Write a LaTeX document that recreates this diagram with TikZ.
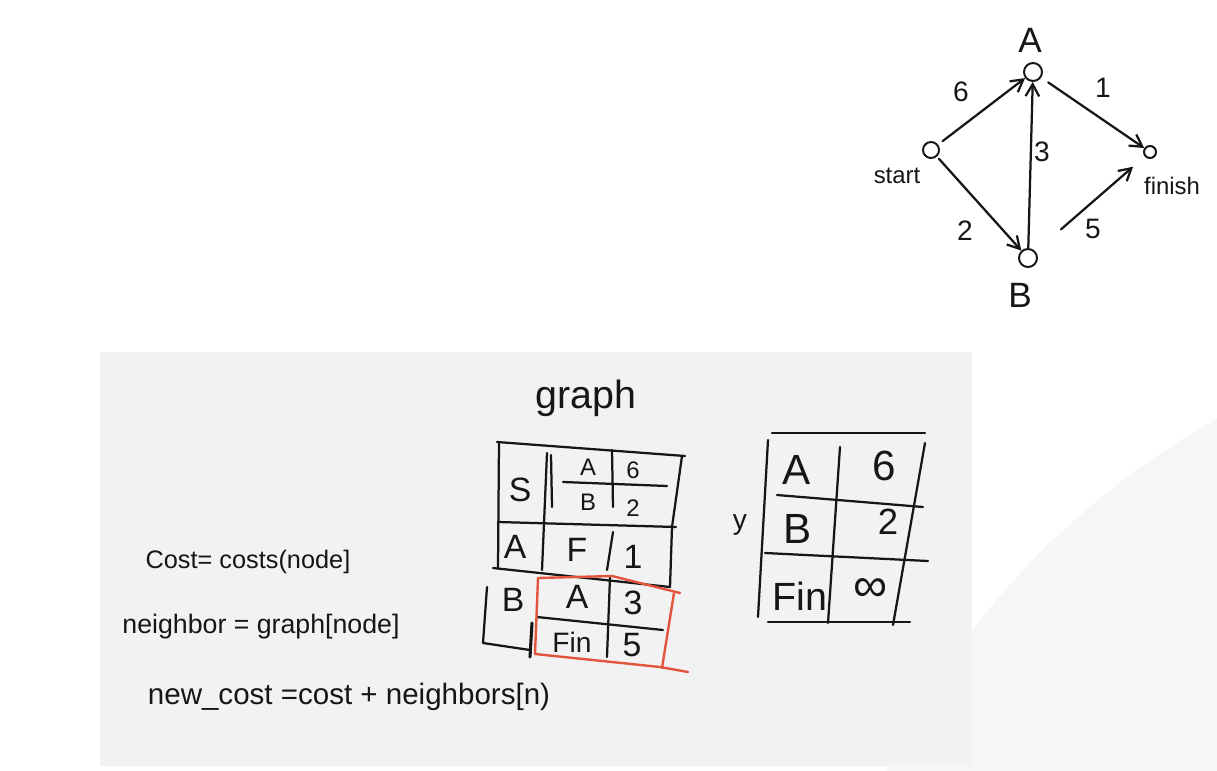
\documentclass[tikz,border=0pt]{standalone}
\usepackage{fontspec}
\setmainfont{Liberation Sans}
\usetikzlibrary{arrows.meta,positioning}
\definecolor{ink}{RGB}{22,22,22}
\definecolor{panelgray}{RGB}{242,242,242}
\definecolor{curvegray}{RGB}{245,246,248}
\definecolor{markred}{RGB}{226,84,60}
\begin{document}
\begin{tikzpicture}[x=0.025cm, y=-0.025cm, >={Straight Barb[length=3mm, width=3.4mm]},
    vtx/.style={circle, draw=ink, line width=1.4pt, inner sep=0pt},
    hand/.style={draw=ink, line width=1.6pt, line cap=round, line join=round},
    redhand/.style={draw=markred, line width=1.7pt, line cap=round, line join=round},
    lbl/.style={text=ink, inner sep=0pt},
    cell/.style={text=ink, inner sep=0pt, font=\fontsize{24}{26}\selectfont},
    smallcell/.style={text=ink, inner sep=0pt, font=\fontsize{17}{19}\selectfont}]
    \useasboundingbox (0,0) rectangle (1217,770);
    % --- backdrop: soft curve and grey panel ---
    \begin{scope}
      \clip (0,0) rectangle (1217,770);
      \fill[curvegray] (1600,1110) circle[radius=790];
    \end{scope}
    \fill[panelgray] (100,352) rectangle (972,766);
    % --- graph: vertices ---
    \node[vtx, minimum size=0.45cm] (A) at (1033,72) {};
    \node[vtx, minimum size=0.4cm] (start) at (931,150) {};
    \node[vtx, minimum size=0.3cm] (finish) at (1150,152) {};
    \node[vtx, minimum size=0.45cm] (B) at (1028,258) {};
    \node[lbl, font=\fontsize{25}{27}\selectfont] (Alab) at (1030,40) {A};
    \node[lbl, font=\fontsize{17}{19}\selectfont] (startlab) at (897,176) {start};
    \node[lbl, font=\fontsize{17}{19}\selectfont] (finishlab) at (1172,186) {finish};
    \node[lbl, font=\fontsize{25}{27}\selectfont] (Blab) at (1020,295) {B};
    % --- graph: weighted edges ---
    \draw[hand, ->, shorten <=4pt] (start) -- (A);
    \draw[hand, ->, shorten <=2pt] (start) -- (B);
    \draw[hand, ->] (B) -- (A);
    \draw[hand, ->, shorten <=6pt] (A) -- (finish);
    \draw[hand, ->, shorten <=24pt, shorten >=11pt] (B) -- (finish);
    \node[lbl, font=\fontsize{20}{22}\selectfont] (w6) at (961,92) {6};
    \node[lbl, font=\fontsize{20}{22}\selectfont] (w2) at (965,231) {2};
    \node[lbl, font=\fontsize{20}{22}\selectfont] (w3) at (1042,152) {3};
    \node[lbl, font=\fontsize{20}{22}\selectfont] (w1) at (1103,88) {1};
    \node[lbl, font=\fontsize{20}{22}\selectfont] (w5) at (1093,229) {5};
    % --- graph table ---
    \node[lbl, font=\fontsize{28}{30}\selectfont] (graphlab) at (586,398) {graph};
    \draw[hand] (497,442) -- (685,456);
    \draw[hand] (499,442) -- (498,568);
    \draw[hand] (487,587) -- (483,643) -- (530,650);
    \draw[hand] (547,453) -- (542,570);
    \draw[hand] (551,455) -- (552,507);
    \draw[hand] (498,522) -- (676,527);
    \draw[hand] (493,568) -- (670,587);
    \draw[hand] (682,456) -- (672,527) -- (670,587);
    \draw[hand] (563,482) -- (667,486);
    \draw[hand] (612,450) -- (613,507);
    \draw[hand] (613,532) -- (607,570);
    \draw[hand] (610,577) -- (607,657);
    \draw[hand] (537,617) -- (663,630);
    \draw[hand, line width=2.2pt] (532,623) -- (530,657);
    \draw[redhand] (538,578) -- (612,576) -- (680,593);
    \draw[redhand] (674,593) -- (662,668);
    \draw[redhand] (538,578) -- (535,654) -- (660,667) -- (688,672);
    \node[cell] (gS) at (520,490) {S};
    \node[smallcell] (gSA) at (588,467) {A};
    \node[smallcell] (gS6) at (633,470) {6};
    \node[smallcell] (gSB) at (588,502) {B};
    \node[smallcell] (gS2) at (633,508) {2};
    \node[cell] (gA) at (515,547) {A};
    \node[cell] (gAF) at (577,550) {F};
    \node[cell] (gA1) at (633,557) {1};
    \node[cell] (gB) at (513,600) {B};
    \node[cell] (gBA) at (577,597) {A};
    \node[cell] (gB3) at (633,603) {3};
    \node[smallcell, font=\fontsize{20}{22}\selectfont] (gBFin) at (572,642) {Fin};
    \node[cell] (gB5) at (632,645) {5};
    % --- costs table ---
    \node[lbl, font=\fontsize{20}{22}\selectfont] (ymark) at (740,525) {y};
    \draw[hand] (772,433) -- (925,433);
    \draw[hand] (768,440) -- (758,617);
    \draw[hand] (840,447) -- (828,623);
    \draw[hand] (925,443) -- (893,625);
    \draw[hand] (777,495) -- (923,507);
    \draw[hand] (765,553) -- (928,561);
    \draw[hand] (768,622) -- (910,622);
    \node[cell, font=\fontsize{30}{32}\selectfont] (cA) at (797,470) {A};
    \node[cell, font=\fontsize{30}{32}\selectfont] (c6) at (884,466) {6};
    \node[cell, font=\fontsize{30}{32}\selectfont] (cB) at (798,529) {B};
    \node[cell, font=\fontsize{26}{28}\selectfont] (c2) at (888,522) {2};
    \node[cell, font=\fontsize{28}{30}\selectfont] (cFin) at (800,596) {Fin};
    \node[cell, font=\fontsize{34}{36}\selectfont] (cInf) at (871,590) {∞};
    % --- pseudo-code lines ---
    \node[lbl, font=\fontsize{18}{20}\selectfont] (costline) at (248,562) {Cost= costs(node]};
    \node[lbl, font=\fontsize{19}{21}\selectfont] (nbrline) at (261,627) {neighbor = graph[node]};
    \node[lbl, font=\fontsize{21}{23}\selectfont] (newline) at (349,697) {new\_cost =cost + neighbors[n)};
\end{tikzpicture}
\end{document}
